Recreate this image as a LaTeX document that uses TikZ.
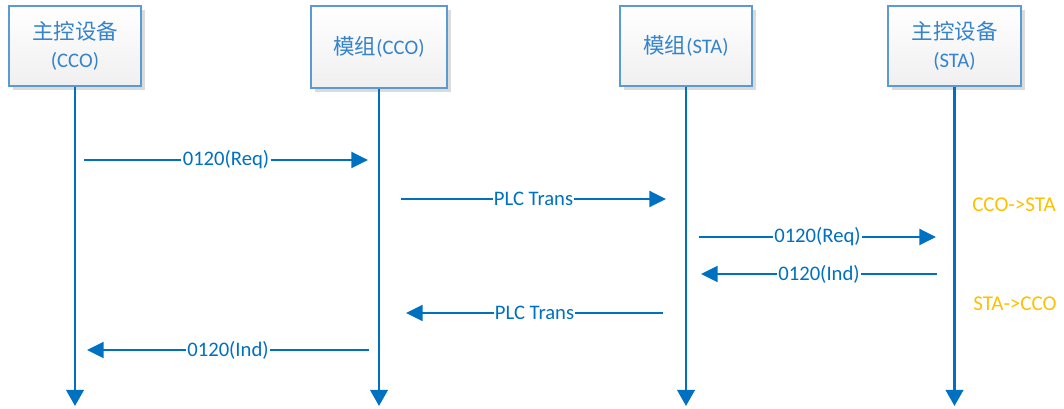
\documentclass[tikz,border=0pt]{standalone}
\usepackage{fontspec}
\setmainfont{Carlito}
\newfontfamily\cjk[Scale=1.04]{Noto Sans CJK SC}
\usetikzlibrary{arrows.meta,shadows}
\definecolor{lineblue}{HTML}{0070C0}
\definecolor{boxborder}{HTML}{5B9BD5}
\definecolor{boxtext}{HTML}{3483CC}
\definecolor{noteorange}{HTML}{FFC000}
\tikzset{
  actor/.style={draw=boxborder, line width=1.1pt, top color=white, bottom color=black!6,
    minimum width=99pt, minimum height=60pt, align=center, text=boxtext,
    font=\fontsize{15.5}{21}\selectfont,
    drop shadow={shadow xshift=3pt, shadow yshift=-3pt, fill=black!14, opacity=1}},
  lifeline/.style={draw=lineblue, line width=2pt, -{Triangle[length=12pt,width=13pt]}},
  msg/.style={draw=lineblue, line width=1.8pt, -{Triangle[length=12.5pt,width=12pt]}},
  msglabel/.style={fill=white, text=lineblue, inner sep=1pt, font=\fontsize{15.5}{18}\selectfont},
  note/.style={text=noteorange, font=\fontsize{15.8}{18}\selectfont, inner sep=0pt}
}
\begin{document}
\begin{tikzpicture}[x=0.75pt, y=-0.75pt]
\useasboundingbox (0,0) rectangle (1064,409);
% actors
\node[actor] (cco) at (75,46) {{\cjk 主控设备}\\(CCO)};
\node[actor, minimum width=102pt, minimum height=61.5pt] (mcco) at (379,47) {{\cjk 模组}(CCO)};
\node[actor] (msta) at (686,46) {{\cjk 模组}(STA)};
\node[actor, minimum width=100pt] (sta) at (954.5,46) {{\cjk 主控设备}\\(STA)};
% lifeline ends
\coordinate (ccoEnd) at (75,406);
\coordinate (mccoEnd) at (379,406);
\coordinate (mstaEnd) at (686,406);
\coordinate (staEnd) at (954.5,406);
\draw[lifeline] (cco.south) -- (ccoEnd);
\draw[lifeline] (mcco.south) -- (mccoEnd);
\draw[lifeline] (msta.south) -- (mstaEnd);
\draw[lifeline] (sta.south) -- (staEnd);
% message endpoints
\coordinate (m1a) at (84,160);  \coordinate (m1b) at (368,160);
\coordinate (m2a) at (401,199); \coordinate (m2b) at (666,199);
\coordinate (m3a) at (699,237); \coordinate (m3b) at (936,237);
\coordinate (m4a) at (937,274); \coordinate (m4b) at (701,274);
\coordinate (m5a) at (663,313); \coordinate (m5b) at (406,313);
\coordinate (m6a) at (369,350); \coordinate (m6b) at (87,350);
\draw[msg] (m1a) -- node[msglabel] (l1) {0120(Req)} (m1b);
\draw[msg] (m2a) -- node[msglabel] (l2) {PLC Trans} (m2b);
\draw[msg] (m3a) -- node[msglabel] (l3) {0120(Req)} (m3b);
\draw[msg] (m4a) -- node[msglabel] (l4) {0120(Ind)} (m4b);
\draw[msg] (m5a) -- node[msglabel] (l5) {PLC Trans} (m5b);
\draw[msg] (m6a) -- node[msglabel] (l6) {0120(Ind)} (m6b);
% notes
\node[note] (n1) at (1014,205) {CCO->STA};
\node[note] (n2) at (1015,304) {STA->CCO};
\end{tikzpicture}
\end{document}
